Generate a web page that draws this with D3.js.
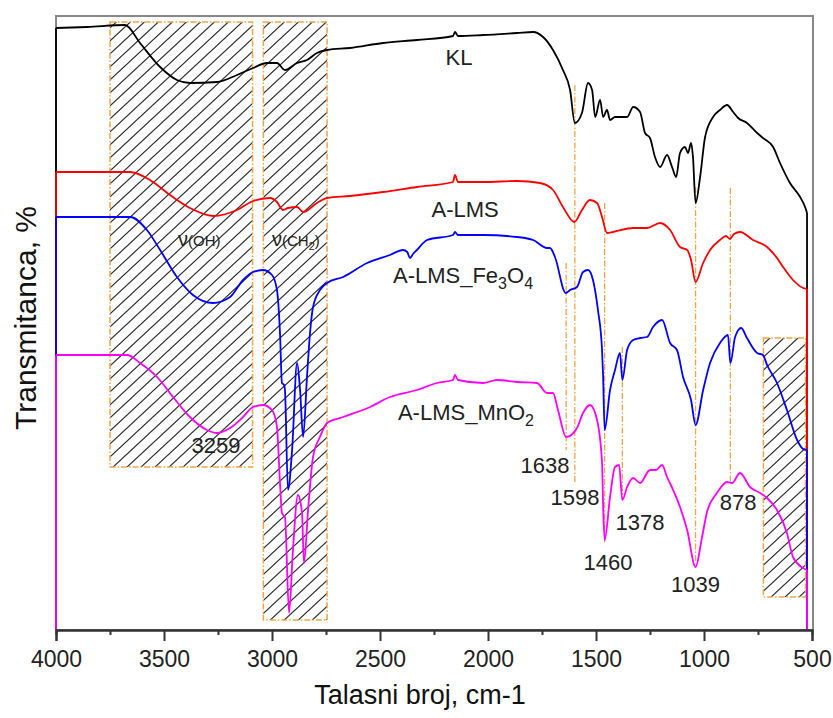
<!DOCTYPE html>
<html>
<head>
<meta charset="utf-8">
<script src="https://cdnjs.cloudflare.com/ajax/libs/d3/7.8.5/d3.min.js"></script>
<style>
  html, body { margin: 0; padding: 0; background: #fff; }
  svg { display: block; font-family: "Liberation Sans", Arial, sans-serif; }
</style>
</head>
<body>
<svg id="chart" width="833" height="718"></svg>
<script>
// ---------- DATA (wavenumber cm-1, relative transmittance) ----------
const xTicksMajor = [4000, 3500, 3000, 2500, 2000, 1500, 1000, 500];
const xTicksMinor = [3750, 3250, 2750, 2250, 1750, 1250, 750];

const klData = [
  [4000,60.2],[3856,60.3],[3680,60.5],[3611,58.7],[3518,56.3],[3440,55.0],[3380,54.7],
  [3255,54.8],[3162,55.5],[3088,56.2],[3023,56.7],[2977,56.7],[2940,56.0],[2884,56.7],
  [2838,57.0],[2792,57.7],[2745,58.0],[2639,58.2],[2486,58.7],[2329,59.0],[2162,59.4],
  [2153,59.8],[2139,59.4],[2023,59.5],[1866,59.7],[1791,59.8],[1745,59.3],[1699,58.0],
  [1653,56.0],[1620,54.0],[1598,50.7],[1565,51.7],[1537,54.7],[1518,54.0],[1504,51.3],
  [1481,53.0],[1467,51.3],[1449,52.0],[1435,51.0],[1412,51.3],[1356,51.3],[1328,52.3],
  [1296,51.8],[1273,49.7],[1250,49.2],[1227,47.3],[1203,46.3],[1171,47.5],[1148,46.3],
  [1129,45.3],[1111,47.7],[1088,48.3],[1074,47.7],[1060,48.7],[1051,47.3],[1039,42.7],
  [1018,45.3],[995,49.3],[958,51.3],[926,52.0],[893,52.5],[865,51.8],[842,51.2],
  [801,50.7],[754,49.7],[727,49.2],[680,48.3],[648,46.7],[602,44.7],[555,43.3],
  [532,42.3],[523,41.7]
];

const almsData = [
  [4000,45.8],[3657,45.8],[3565,45.0],[3472,43.5],[3380,42.2],[3273,41.4],[3162,42.0],
  [3088,42.9],[3009,43.2],[2977,42.8],[2949,42.0],[2926,42.2],[2884,42.3],[2856,41.8],
  [2792,42.7],[2745,43.2],[2639,43.4],[2486,43.8],[2329,44.3],[2162,44.8],[2153,45.5],
  [2139,44.8],[2023,44.8],[1866,44.9],[1759,44.7],[1699,44.0],[1653,42.3],[1600,40.8],
  [1565,42.0],[1528,43.0],[1495,42.7],[1472,41.3],[1449,39.7],[1421,39.8],[1328,40.2],
  [1264,40.2],[1203,40.7],[1157,40.0],[1111,38.3],[1078,38.0],[1060,37.0],[1039,34.8],
  [1004,36.7],[972,38.0],[926,39.0],[898,39.4],[880,39.1],[861,39.6],[833,39.8],
  [773,39.0],[708,38.3],[662,37.2],[634,36.3],[588,35.0],[541,34.2],[523,34.1]
];

const fe3o4Data = [
  [4000,41.3],[3657,41.3],[3579,40.0],[3518,38.0],[3440,35.3],[3366,33.5],[3273,32.7],
  [3194,33.3],[3134,35.0],[3088,35.8],[3042,36.0],[3000,35.5],[2977,34.0],[2963,29.7],
  [2954,24.7],[2944,24.5],[2940,24.0],[2926,14.0],[2907,18.0],[2884,26.7],[2870,24.0],
  [2856,19.3],[2838,25.3],[2824,29.7],[2810,32.3],[2778,34.0],[2745,34.7],[2671,35.3],
  [2560,36.7],[2454,37.5],[2393,38.0],[2374,37.8],[2361,37.2],[2347,37.6],[2329,38.0],
  [2282,39.0],[2162,39.5],[2153,39.8],[2139,39.5],[2023,39.5],[1866,39.3],[1791,39.0],
  [1727,38.2],[1713,38.2],[1690,37.3],[1640,33.7],[1620,34.0],[1588,34.3],[1560,35.8],
  [1537,36.0],[1514,35.0],[1491,32.0],[1472,28.0],[1467,25.3],[1460,20.0],[1435,24.0],
  [1412,26.0],[1389,27.7],[1378,25.0],[1356,28.0],[1328,29.0],[1296,29.2],[1264,29.3],
  [1236,30.3],[1194,31.0],[1157,28.7],[1125,28.0],[1097,25.3],[1060,23.0],[1039,20.5],
  [1004,24.0],[972,26.7],[926,28.7],[889,29.5],[878,26.7],[856,29.3],[828,30.2],
  [801,29.2],[754,27.7],[727,27.5],[708,26.5],[662,24.7],[616,22.0],[569,19.0],
  [541,18.1],[523,18.0]
];

const mno2Data = [
  [4000,27.5],[3671,27.5],[3611,26.7],[3532,25.3],[3458,23.3],[3380,21.3],[3301,20.0],
  [3255,19.7],[3194,20.2],[3134,21.3],[3088,22.3],[3042,22.5],[3000,22.0],[2977,20.3],
  [2963,14.7],[2954,11.7],[2944,11.4],[2940,11.3],[2921,1.7],[2903,8.0],[2880,13.5],
  [2861,11.7],[2852,6.7],[2833,12.0],[2810,17.3],[2778,19.3],[2745,20.7],[2671,21.3],
  [2546,22.3],[2454,23.3],[2329,24.0],[2236,24.7],[2162,25.0],[2153,25.5],[2139,25.0],
  [2023,24.7],[1958,25.0],[1866,24.8],[1773,24.7],[1727,23.7],[1699,23.7],[1676,22.0],
  [1638,19.3],[1588,20.2],[1560,21.7],[1528,22.5],[1495,21.0],[1472,16.7],[1466,11.7],
  [1460,9.0],[1435,13.3],[1412,16.3],[1393,16.5],[1378,13.0],[1356,14.3],[1328,15.2],
  [1296,14.7],[1250,16.0],[1222,16.0],[1194,16.5],[1171,15.3],[1143,14.0],[1111,12.3],
  [1078,10.0],[1039,6.3],[1009,9.3],[986,11.8],[940,13.7],[893,14.8],[870,14.7],
  [833,15.7],[787,14.3],[740,13.7],[708,13.2],[662,12.0],[616,9.7],[588,7.3],
  [541,6.2],[523,6.0]
];

const seriesNames = ["KL", "A-LMS", "A-LMS_Fe3O4", "A-LMS_MnO2"];
const seriesColors = ["#000000", "#ff0000", "#0000ff", "#ff00ff"];

// marked bands (cm-1) and marker lines
const peakValues = [1638, 1598, 1460, 1378, 1039, 878];
const peakLineTop = [36.7, 54.5, 42.7, 28.3, 44.3, 44.2];
const peakLineBottom = [18.0, 14.7, 8.7, 13.0, 6.7, 14.7];

// hatched regions: [x0, x1] cm-1, [bottom, top] value
const bandX = [[3750, 3090], [3040, 2745], [725, 530]];
const bandY = [[16.3, 60.8], [1.0, 60.8], [3.3, 29.2]];

// ---------- LAYOUT ----------
const x = d3.scaleLinear().domain([4000, 500]).range([56, 812]);
const y = d3.scaleLinear().domain([0, 61.4]).range([630, 16]);
const svg = d3.select("#chart");

const defs = svg.append("defs");
const pat = defs.append("pattern").attr("id", "hatch")
  .attr("patternUnits", "userSpaceOnUse").attr("width", 14).attr("height", 13);
pat.append("path")
  .attr("d", "M0,13 L14,0 M-7,6.5 L7,-6.5 M7,19.5 L21,6.5")
  .attr("stroke", "#2a2a2a").attr("stroke-width", 1.2).attr("fill", "none");

// frame
svg.append("rect").attr("x", 56).attr("y", 16).attr("width", 757).attr("height", 614)
  .attr("fill", "none").attr("stroke", "#888").attr("stroke-width", 2);

// hatched bands
const bands = svg.append("g");
bandX.forEach((bx, i) => {
  const x0 = x(bx[0]), x1 = x(bx[1]);
  const y0 = y(bandY[i][1]), y1 = y(bandY[i][0]);
  bands.append("rect").attr("x", x0).attr("y", y0)
    .attr("width", x1 - x0).attr("height", y1 - y0)
    .attr("fill", "url(#hatch)")
    .attr("stroke", "#f5a445").attr("stroke-width", 1.5)
    .attr("stroke-dasharray", "6,2,1.5,2");
});

// peak marker lines
const markers = svg.append("g");
peakValues.forEach((p, i) => {
  markers.append("line")
    .attr("x1", x(p)).attr("x2", x(p))
    .attr("y1", y(peakLineTop[i])).attr("y2", y(peakLineBottom[i]))
    .attr("stroke", "#f5a445").attr("stroke-width", 1.3)
    .attr("stroke-dasharray", "6,2,1.5,2");
});

// curves (smooth), with vertical drops to the baseline at both ends
const line = d3.line().x(d => x(d[0])).y(d => y(d[1])).curve(d3.curveMonotoneX);
const allData = [klData, almsData, fe3o4Data, mno2Data];
allData.forEach((data, i) => {
  const base = y.domain()[0];
  const g = svg.append("g");
  const first = data[0], last = data[data.length - 1];
  [[first, [first[0], base]], [last, [last[0], base]]].forEach(seg => {
    g.append("line")
      .attr("x1", x(seg[0][0])).attr("y1", y(seg[0][1]))
      .attr("x2", x(seg[1][0])).attr("y2", y(seg[1][1]))
      .attr("stroke", seriesColors[i]).attr("stroke-width", 1.8);
  });
  g.append("path").datum(data)
    .attr("d", line)
    .attr("fill", "none")
    .attr("stroke", seriesColors[i])
    .attr("stroke-width", 1.8)
    .attr("stroke-linejoin", "round");
});

// x axis
const axisMinor = d3.axisBottom(x).tickValues(xTicksMinor).tickSize(5).tickFormat("");
const axisMajor = d3.axisBottom(x).tickValues(xTicksMajor).tickSize(11).tickPadding(10)
  .tickFormat(d3.format("d"));
const gMin = svg.append("g").attr("transform", "translate(0,630)").call(axisMinor);
const gMaj = svg.append("g").attr("transform", "translate(0,630)").call(axisMajor);
[gMin, gMaj].forEach(g => {
  g.select(".domain").attr("stroke", "#333").attr("stroke-width", 2);
  g.selectAll(".tick line").attr("stroke", "#333").attr("stroke-width", 2);
});
gMaj.selectAll(".tick text").attr("font-size", 23).attr("fill", "#222")
  .attr("font-family", "Liberation Sans, Arial, sans-serif");

// axis titles
svg.append("text").attr("x", 420).attr("y", 704).attr("text-anchor", "middle")
  .attr("font-size", 27).attr("fill", "#111").text("Talasni broj, cm-1");
svg.append("text").attr("transform", "translate(36,318) rotate(-90)")
  .attr("text-anchor", "middle").attr("font-size", 30).attr("fill", "#111")
  .text("Transmitanca, %");

// series labels
const labelFont = 22;
function label(txt, xv, yv, anchor) {
  return svg.append("text").attr("x", x(xv)).attr("y", y(yv))
    .attr("text-anchor", anchor || "middle").attr("font-size", labelFont)
    .attr("fill", "#222").text(txt);
}
label(seriesNames[0], 2134, 56.5);
label(seriesNames[1], 2106, 41.3);
const tFe = svg.append("text").attr("x", x(2440)).attr("y", y(34.7))
  .attr("font-size", labelFont).attr("fill", "#222");
tFe.append("tspan").text("A-LMS_Fe");
tFe.append("tspan").attr("dy", 6).attr("font-size", 16).text("3");
tFe.append("tspan").attr("dy", -6).text("O");
tFe.append("tspan").attr("dy", 6).attr("font-size", 16).text("4");
const tMn = svg.append("text").attr("x", x(2417)).attr("y", y(21.0))
  .attr("font-size", labelFont).attr("fill", "#222");
tMn.append("tspan").text("A-LMS_MnO");
tMn.append("tspan").attr("dy", 6).attr("font-size", 16).text("2");

// vibration labels
const tOH = svg.append("text").attr("x", x(3435)).attr("y", y(38.4)).attr("fill", "#222");
tOH.append("tspan").attr("font-size", 20).text("ν");
tOH.append("tspan").attr("font-size", 15).text("(OH)");
const tCH = svg.append("text").attr("x", x(3000)).attr("y", y(38.4)).attr("fill", "#222");
tCH.append("tspan").attr("font-size", 20).text("ν");
tCH.append("tspan").attr("font-size", 15).text("(CH");
tCH.append("tspan").attr("font-size", 11).attr("dy", 4).text("2");
tCH.append("tspan").attr("font-size", 15).attr("dy", -4).text(")");

// peak labels
const peakLabels = [3259, 1638, 1598, 1378, 1460, 1039, 878];
const peakLabelX = [3259, 1736, 1597, 1296, 1444, 1039, 842];
const peakLabelY = [17.7, 15.7, 12.5, 10.0, 6.0, 3.8, 12.0];
peakLabels.forEach((p, i) => label(String(p), peakLabelX[i], peakLabelY[i]));
</script>
</body>
</html>
